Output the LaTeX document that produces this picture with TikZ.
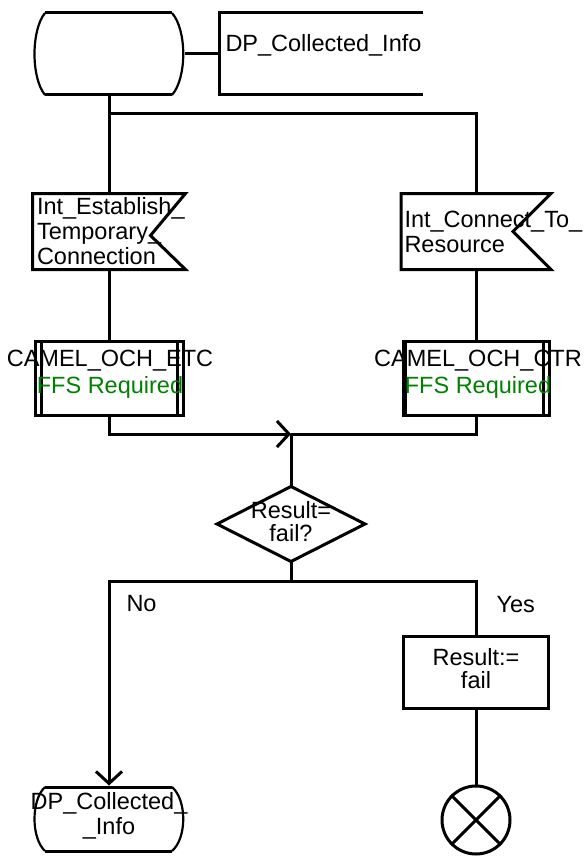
\documentclass[tikz,border=0pt]{standalone}
\usepackage{fontspec}
\setmainfont{Liberation Sans}
\usetikzlibrary{arrows.meta}
\definecolor{ffsgreen}{RGB}{0,128,0}
\begin{document}
\begin{tikzpicture}[x=1pt,y=-1pt, line width=3pt,
  txt/.style={inner sep=0pt, font=\fontsize{23.5}{25}\selectfont, align=center},
  box/.style={draw, rectangle, inner sep=0pt},
  ghost/.style={rectangle, inner sep=0pt},
  side/.style={line width=2.2pt},
  barb/.style={-{Straight Barb[length=12pt,width=26pt]}}
]
\useasboundingbox (0,0) rectangle (588,856);

% start state
\node[ghost, minimum width=149pt, minimum height=82pt] (start) at (109,54) {};
\draw[side] (45,13) .. controls (31,30) and (31,78) .. (45,95);
\draw[side] (172,13) .. controls (187,30) and (187,78) .. (172,95);
\draw (45,13) -- (172,13);
\draw (45,95) -- (172,95);

% comment
\coordinate (cmt) at (219,54);
\draw (423,13) -- (219,13) -- (219,95) -- (423,95);
\node[txt, anchor=west] (cmttext) at (224,45) {DP\_Collected\_Info};
\draw (start.east) -- (cmt);

% input signals
\node[ghost, minimum width=150pt, minimum height=73pt] (sigL) at (109,231.5) {};
\draw (sigL.north west) -- (sigL.north east) -- ([xshift=-35pt,yshift=-4pt]sigL.east) -- (sigL.south east) -- (sigL.south west) -- cycle;
\node[txt, anchor=west, align=left] (sigLtext) at ([xshift=3pt]sigL.west) {Int\_Establish\_\\Temporary\_\\Connection};

\node[ghost, minimum width=147pt, minimum height=73pt] (sigR) at (476,231.5) {};
\draw (sigR.north west) -- (sigR.north east) -- ([xshift=-38pt]sigR.east) -- (sigR.south east) -- (sigR.south west) -- cycle;
\node[txt, anchor=west, align=left] (sigRtext) at ([xshift=2pt]sigR.west) {Int\_Connect\_To\_\\Resource};

\coordinate (fork) at (109,114);
\draw (start.south) -- (fork) -- (sigL.north);
\draw (fork) -| (sigR.north);

% procedure calls
\node[box, minimum width=148pt, minimum height=74pt] (procL) at (109,378) {};
\draw ([xshift=8pt]procL.north west) -- ([xshift=8pt]procL.south west);
\draw ([xshift=-7pt]procL.north east) -- ([xshift=-7pt]procL.south east);
\node[txt, font=\fontsize{23.5}{27}\selectfont] (procLtext) at (110,374) {CAMEL\_OCH\_ETC\\\textcolor{ffsgreen}{FFS Required}};

\node[box, minimum width=146pt, minimum height=74pt] (procR) at (476,378) {};
\draw ([xshift=4pt]procR.north west) -- ([xshift=4pt]procR.south west);
\draw ([xshift=-7pt]procR.north east) -- ([xshift=-7pt]procR.south east);
\node[txt, font=\fontsize{23.5}{27}\selectfont] (procRtext) at (478,374) {CAMEL\_OCH\_CTR\\\textcolor{ffsgreen}{FFS Required}};

\draw (sigL.south) -- (procL.north);
\draw (sigR.south) -- (procR.north);

% merge
\coordinate (mrg) at (291,434);
\draw[barb] (procL.south) |- (mrg);
\draw (procR.south) |- (mrg);

% decision
\node[ghost, minimum width=145pt, minimum height=72pt] (dec) at (291,524) {};
\draw (dec.north) -- (dec.east) -- (dec.south) -- (dec.west) -- cycle;
\node[txt, font=\fontsize{23.5}{23}\selectfont] (dectext) at (291,521.5) {Result=\\fail?};
\draw (mrg) -- (dec.north);

% task
\node[box, minimum width=145pt, minimum height=72pt] (res) at (476,672) {};
\node[txt, font=\fontsize{23.5}{23}\selectfont] (restext) at (476,668.5) {Result:=\\fail};

% end nodes
\node[ghost, minimum width=149pt, minimum height=64pt] (endL) at (109,819) {};
\draw[side] (45,787) .. controls (31,800) and (31,838) .. (45,851);
\draw[side] (172,787) .. controls (187,800) and (187,838) .. (172,851);
\draw (45,787) -- (172,787);
\draw (45,851) -- (172,851);
\node[txt] (endLtext) at (109,815.5) {DP\_Collected\_\\\_Info};

\node[draw, circle, minimum size=68pt, inner sep=0pt] (term) at (476,820) {};
\draw (term.north west) -- (term.south east);
\draw (term.north east) -- (term.south west);

% branches
\coordinate (split) at (291,581);
\draw (dec.south) -- (split);
\draw[barb] (split) -| (endL.north);
\draw (split) -| (res.north);
\draw (res.south) -- (term.north);

\node[txt, anchor=west] (no) at (125,604) {No};
\node[txt, anchor=west] (yes) at (495,605) {Yes};
\end{tikzpicture}
\end{document}
